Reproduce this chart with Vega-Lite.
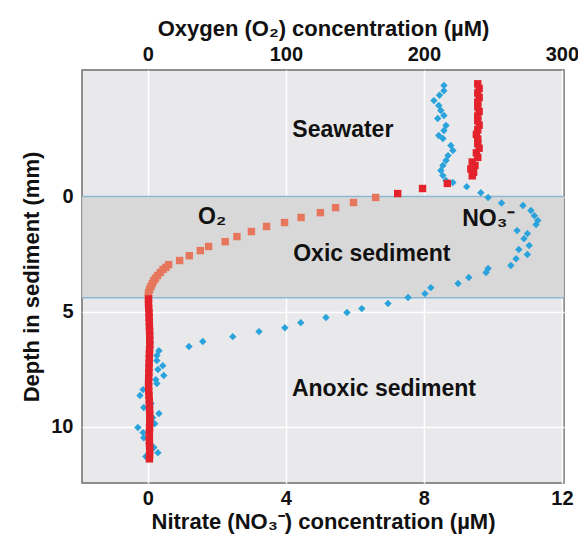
{
  "$schema": "https://vega.github.io/schema/vega-lite/v6.json",
  "width": 482,
  "height": 413,
  "padding": {"left": 20, "top": 17, "right": 0, "bottom": 2},
  "background": "#ffffff",
  "datasets": {
    "o2": [
      {"depth": -4.9, "o2": 239}, {"depth": -4.7, "o2": 240}, {"depth": -4.5, "o2": 239}, {"depth": -4.3, "o2": 240},
      {"depth": -4.1, "o2": 239}, {"depth": -3.9, "o2": 239}, {"depth": -3.7, "o2": 240}, {"depth": -3.5, "o2": 239},
      {"depth": -3.3, "o2": 239}, {"depth": -3.1, "o2": 240}, {"depth": -2.9, "o2": 239}, {"depth": -2.7, "o2": 238},
      {"depth": -2.5, "o2": 239}, {"depth": -2.3, "o2": 239}, {"depth": -2.1, "o2": 240}, {"depth": -1.9, "o2": 238},
      {"depth": -1.7, "o2": 239}, {"depth": -1.5, "o2": 235}, {"depth": -1.35, "o2": 237}, {"depth": -1.2, "o2": 234},
      {"depth": -1.05, "o2": 236}, {"depth": -0.9, "o2": 235},
      {"depth": -0.57, "o2": 217}, {"depth": -0.35, "o2": 199}, {"depth": -0.13, "o2": 181}, {"depth": 0.04, "o2": 165},
      {"depth": 0.26, "o2": 149}, {"depth": 0.48, "o2": 136}, {"depth": 0.7, "o2": 125}, {"depth": 0.91, "o2": 111},
      {"depth": 1.13, "o2": 99}, {"depth": 1.3, "o2": 86}, {"depth": 1.52, "o2": 75}, {"depth": 1.74, "o2": 64.5},
      {"depth": 1.96, "o2": 56}, {"depth": 2.17, "o2": 44}, {"depth": 2.35, "o2": 38}, {"depth": 2.57, "o2": 30},
      {"depth": 2.78, "o2": 23}, {"depth": 2.96, "o2": 15}, {"depth": 3.08, "o2": 13}, {"depth": 3.17, "o2": 11},
      {"depth": 3.3, "o2": 9}, {"depth": 3.43, "o2": 7}, {"depth": 3.55, "o2": 5.5}, {"depth": 3.65, "o2": 4.3},
      {"depth": 3.78, "o2": 3.2}, {"depth": 3.91, "o2": 2.2}, {"depth": 4.04, "o2": 1.2}, {"depth": 4.17, "o2": 0.5},
      {"depth": 4.3, "o2": 0.3},
      {"depth": 4.45, "o2": 0.5}, {"depth": 4.65, "o2": 0.4}, {"depth": 4.85, "o2": 0.6}, {"depth": 5.05, "o2": 0.8},
      {"depth": 5.25, "o2": 0.9}, {"depth": 5.45, "o2": 1.0}, {"depth": 5.65, "o2": 1.1}, {"depth": 5.85, "o2": 1.2},
      {"depth": 6.05, "o2": 1.3}, {"depth": 6.25, "o2": 1.3}, {"depth": 6.45, "o2": 1.4}, {"depth": 6.65, "o2": 1.2},
      {"depth": 6.85, "o2": 1.1}, {"depth": 7.05, "o2": 1.0}, {"depth": 7.25, "o2": 0.9}, {"depth": 7.45, "o2": 0.8},
      {"depth": 7.65, "o2": 0.7}, {"depth": 7.85, "o2": 0.6}, {"depth": 8.05, "o2": 0.5}, {"depth": 8.25, "o2": 0.5},
      {"depth": 8.45, "o2": 0.6}, {"depth": 8.65, "o2": 0.8}, {"depth": 8.85, "o2": 1.0}, {"depth": 9.05, "o2": 1.1},
      {"depth": 9.25, "o2": 1.2}, {"depth": 9.45, "o2": 1.3}, {"depth": 9.65, "o2": 1.4}, {"depth": 9.85, "o2": 1.3},
      {"depth": 10.05, "o2": 1.2}, {"depth": 10.25, "o2": 1.1}, {"depth": 10.45, "o2": 1.0}, {"depth": 10.65, "o2": 1.1},
      {"depth": 10.85, "o2": 1.2}, {"depth": 11.05, "o2": 1.3}, {"depth": 11.25, "o2": 1.2}, {"depth": 11.4, "o2": 1.1}
    ],
    "no3": [
      {"depth": -4.83, "no3": 8.58}, {"depth": -4.6, "no3": 8.58}, {"depth": -4.4, "no3": 8.45}, {"depth": -4.17, "no3": 8.29},
      {"depth": -3.96, "no3": 8.43}, {"depth": -3.74, "no3": 8.49}, {"depth": -3.52, "no3": 8.58}, {"depth": -3.39, "no3": 8.4},
      {"depth": -3.09, "no3": 8.64}, {"depth": -2.87, "no3": 8.58}, {"depth": -2.65, "no3": 8.43}, {"depth": -2.52, "no3": 8.55},
      {"depth": -2.22, "no3": 8.78}, {"depth": -2.0, "no3": 8.84}, {"depth": -1.78, "no3": 8.7}, {"depth": -1.57, "no3": 8.64},
      {"depth": -1.35, "no3": 8.55}, {"depth": -1.13, "no3": 8.49}, {"depth": -0.91, "no3": 8.55}, {"depth": -0.7, "no3": 8.64},
      {"depth": -0.61, "no3": 8.84}, {"depth": -0.43, "no3": 9.24}, {"depth": -0.17, "no3": 9.65}, {"depth": 0.04, "no3": 9.86},
      {"depth": 0.28, "no3": 10.25}, {"depth": 0.39, "no3": 10.87}, {"depth": 0.61, "no3": 11.1}, {"depth": 0.83, "no3": 11.2},
      {"depth": 1.04, "no3": 11.3}, {"depth": 1.22, "no3": 11.25}, {"depth": 1.48, "no3": 10.7}, {"depth": 1.61, "no3": 11.0},
      {"depth": 1.83, "no3": 10.9}, {"depth": 2.13, "no3": 11.05}, {"depth": 2.3, "no3": 10.75}, {"depth": 2.52, "no3": 11.0},
      {"depth": 2.7, "no3": 10.67}, {"depth": 3.0, "no3": 10.52}, {"depth": 3.13, "no3": 9.86}, {"depth": 3.3, "no3": 9.8},
      {"depth": 3.52, "no3": 9.3}, {"depth": 3.78, "no3": 8.99}, {"depth": 3.96, "no3": 8.2}, {"depth": 4.22, "no3": 8.03},
      {"depth": 4.39, "no3": 7.54}, {"depth": 4.65, "no3": 6.96}, {"depth": 4.87, "no3": 6.2}, {"depth": 5.04, "no3": 5.77},
      {"depth": 5.26, "no3": 5.16}, {"depth": 5.48, "no3": 4.43}, {"depth": 5.7, "no3": 3.97}, {"depth": 5.87, "no3": 3.22},
      {"depth": 6.09, "no3": 2.46}, {"depth": 6.3, "no3": 1.59}, {"depth": 6.52, "no3": 1.19},
      {"depth": 6.7, "no3": 0.32}, {"depth": 6.91, "no3": 0.26}, {"depth": 7.13, "no3": 0.26}, {"depth": 7.35, "no3": 0.43},
      {"depth": 7.52, "no3": 0.29}, {"depth": 7.78, "no3": 0.46}, {"depth": 7.96, "no3": 0.23}, {"depth": 8.13, "no3": 0.26},
      {"depth": 8.39, "no3": -0.14}, {"depth": 8.65, "no3": -0.23}, {"depth": 9.0, "no3": 0.09}, {"depth": 9.17, "no3": -0.12},
      {"depth": 9.43, "no3": 0.32}, {"depth": 9.61, "no3": 0.14}, {"depth": 9.87, "no3": 0.2}, {"depth": 10.04, "no3": -0.29},
      {"depth": 10.26, "no3": -0.14}, {"depth": 10.48, "no3": -0.12}, {"depth": 10.7, "no3": 0.03}, {"depth": 10.91, "no3": 0.17},
      {"depth": 11.13, "no3": 0.29}, {"depth": 11.3, "no3": -0.06}
    ],
    "labels": [
      {"depth": -2.91, "n": 5.65, "label": "Seawater"},
      {"depth": 2.48, "n": 6.49, "label": "Oxic sediment"},
      {"depth": 8.35, "n": 6.84, "label": "Anoxic sediment"},
      {"depth": 0.91, "n": 1.86, "label": "O₂"},
      {"depth": 0.96, "n": 9.88, "label": "NO₃⁻"}
    ],
    "zones": [{"depth": 0, "depth_end": 4.4}],
    "bounds": [{"depth": 0}, {"depth": 4.4}]
  },
  "encoding": {
    "y": {
      "field": "depth",
      "type": "quantitative",
      "scale": {"domain": [-5.5, 12.45], "reverse": true, "nice": false, "zero": false},
      "axis": {"values": [0, 5, 10], "title": "Depth in sediment (mm)", "grid": true, "labelPadding": 9, "titlePadding": 7}
    }
  },
  "layer": [
    {
      "data": {"name": "zones"},
      "mark": {"type": "rect", "color": "#d6d5d5", "opacity": 0.88},
      "encoding": {"y2": {"field": "depth_end"}}
    },
    {
      "data": {"name": "bounds"},
      "mark": {"type": "rule", "color": "#8bb8d2", "strokeWidth": 1.5},
      "encoding": {}
    },
    {
      "data": {"name": "no3"},
      "mark": {"type": "point", "shape": "diamond", "filled": true, "size": 55, "color": "#2aa3dc", "opacity": 1},
      "encoding": {
        "x": {
          "field": "no3",
          "type": "quantitative",
          "scale": {"domain": [-1.91, 12.06], "nice": false, "zero": false},
          "axis": {"orient": "bottom", "values": [0, 4, 8, 12], "title": "Nitrate (NO₃⁻) concentration (µM)", "grid": true, "labelPadding": 5, "titlePadding": 3}
        }
      }
    },
    {
      "data": {"name": "o2"},
      "mark": {"type": "square", "size": 55, "opacity": 1},
      "encoding": {
        "x": {
          "field": "o2",
          "type": "quantitative",
          "scale": {"domain": [-47.75, 301.5], "nice": false, "zero": false},
          "axis": {"orient": "top", "values": [0, 100, 200, 300], "title": "Oxygen (O₂) concentration (µM)", "grid": false, "labelPadding": 6, "titlePadding": 4}
        },
        "color": {
          "condition": {"test": "datum.depth > 0 && datum.depth < 4.4", "value": "#e6775c"},
          "value": "#e3222b"
        }
      }
    },
    {
      "data": {"name": "labels"},
      "mark": {"type": "text", "font": "Liberation Sans", "fontWeight": "bold", "fontSize": 23, "color": "#111111", "align": "center", "baseline": "middle"},
      "encoding": {
        "x": {
          "field": "n",
          "type": "quantitative",
          "scale": {"domain": [-1.91, 12.06], "nice": false, "zero": false},
          "axis": null
        },
        "text": {"field": "label"}
      }
    }
  ],
  "resolve": {"scale": {"x": "independent"}, "axis": {"x": "independent"}},
  "config": {
    "view": {"fill": "#e9e9eb", "stroke": "#6e6e6e", "strokeWidth": 1.5},
    "axis": {
      "domain": false,
      "ticks": false,
      "labelFont": "Liberation Sans",
      "labelFontWeight": "bold",
      "labelFontSize": 20,
      "labelColor": "#111111",
      "titleFont": "Liberation Sans",
      "titleFontWeight": "bold",
      "titleFontSize": 22,
      "titleColor": "#111111",
      "gridColor": "#ffffff",
      "gridWidth": 1.5,
      "gridOpacity": 1
    }
  }
}
